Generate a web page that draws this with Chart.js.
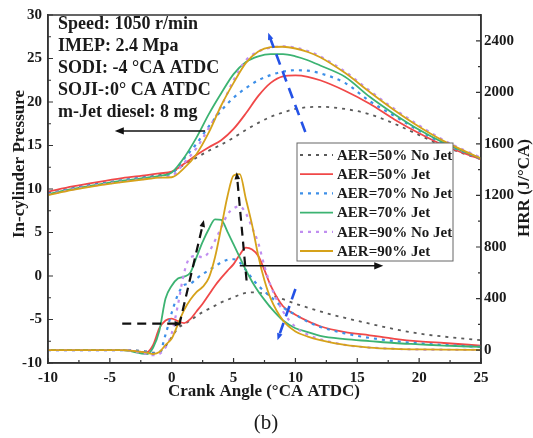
<!DOCTYPE html>
<html lang="en">
<head>
    <meta charset="UTF-8">
    <title>In-cylinder Pressure and HRR</title>
    <style>
        body {
            margin: 0;
            padding: 0;
            background: #fff;
        }
        .chart-box {
            width: 533px;
            height: 438px;
        }
    </style>
</head>
<body>
    <div class="chart-box">
        <canvas id="cylChart" width="533" height="438"></canvas>
    </div>

    <script src="https://cdn.jsdelivr.net/npm/chart.js"></script>
    <script>
        // Series labels (legend order)
        const seriesNames = ['AER=50% No Jet', 'AER=50% Jet', 'AER=70% No Jet', 'AER=70% Jet', 'AER=90% No Jet', 'AER=90% Jet'];

        // In-cylinder pressure, left axis
        const pressureAngles = [-10, -8, -6, -4, -2, -1, 0, 1, 2, 3, 4, 5, 6, 7, 8, 9, 10, 11, 12, 14, 16, 18, 20, 22, 25];
        const p50NoJet = [9.5, 10.1, 10.6, 11.0, 11.4, 11.6, 11.9, 12.8, 13.6, 14.4, 15.1, 15.9, 16.8, 17.6, 18.3, 18.8, 19.2, 19.4, 19.45, 19.2, 18.6, 17.5, 16.2, 14.9, 13.4];
        const p50Jet = [9.7, 10.3, 10.8, 11.25, 11.6, 11.8, 12.0, 12.9, 13.9, 14.8, 15.6, 16.9, 18.7, 20.7, 22.2, 22.95, 23.05, 22.9, 22.5, 21.3, 19.8, 18.0, 16.4, 15.0, 13.4];
        const p70NoJet = [9.45, 10.05, 10.55, 11.0, 11.35, 11.5, 11.8, 13.5, 15.2, 17.2, 19.0, 20.5, 21.6, 22.5, 23.1, 23.5, 23.65, 23.6, 23.3, 22.2, 20.1, 18.4, 16.7, 15.2, 13.5];
        const p70Jet = [9.4, 10.0, 10.5, 10.95, 11.3, 11.5, 11.9, 13.6, 15.9, 18.6, 21.0, 23.2, 24.6, 25.25, 25.5, 25.5, 25.25, 24.8, 24.2, 22.9, 20.6, 18.6, 16.8, 15.3, 13.5];
        const p90NoJet = [9.35, 9.95, 10.45, 10.85, 11.2, 11.35, 11.5, 13.0, 14.7, 17.0, 19.5, 22.5, 24.8, 25.8, 26.25, 26.4, 26.25, 25.85, 25.25, 23.5, 21.3, 19.2, 17.3, 15.6, 13.6];
        const p90Jet = [9.3, 9.9, 10.4, 10.8, 11.15, 11.3, 11.35, 12.4, 14.0, 16.5, 19.6, 22.2, 24.5, 25.8, 26.3, 26.35, 26.15, 25.75, 25.15, 23.35, 21.15, 19.05, 17.15, 15.5, 13.5];

        // Heat release rate, right axis
        const hrrAngles = [-10, -4, -2, -1.5, -1, -0.5, 0, 0.5, 1, 1.5, 2, 2.5, 3, 3.5, 4, 4.5, 5, 5.5, 6, 6.5, 7, 7.5, 8, 9, 10, 11, 12, 14, 16, 18, 20, 22, 25];
        const h50NoJet = [0, 0, -10, -20, -15, 30, 100, 170, 200, 230, 265, 295, 320, 345, 370, 390, 410, 430, 445, 448, 445, 438, 425, 395, 360, 330, 300, 250, 205, 163, 128, 105, 77];
        const h50Jet = [0, 0, -15, 40, 170, 230, 245, 225, 210, 240, 300, 360, 430, 500, 560, 615, 667, 740, 795, 780, 730, 620, 500, 340, 275, 225, 185, 140, 115, 88, 68, 55, 35];
        const h70NoJet = [0, 0, -15, -25, -20, 120, 290, 430, 505, 515, 555, 590, 620, 650, 680, 700, 705, 680, 620, 555, 500, 455, 415, 330, 275, 220, 180, 130, 95, 70, 52, 40, 25];
        const h70Jet = [0, 0, -30, 20, 150, 400, 500, 555, 570, 600, 720, 840, 940, 1015, 1010, 920, 820, 720, 620, 530, 455, 390, 330, 230, 170, 140, 110, 85, 70, 55, 45, 35, 25];
        const h90NoJet = [0, 0, -30, -40, -30, 20, 130, 350, 600, 720, 730, 720, 760, 850, 950, 1050, 1100, 1115, 1060, 950, 830, 650, 500, 300, 180, 120, 85, 40, 20, 10, 5, 3, 2];
        const h90Jet = [0, 0, -20, -30, -15, 40, 90, 200, 310, 390, 450, 490, 560, 720, 950, 1190, 1355, 1365, 1170, 970, 730, 540, 400, 230, 145, 105, 78, 40, 20, 10, 5, 3, 2];

        // Tick values
        const angleTicks = [-10, -5, 0, 5, 10, 15, 20, 25];
        const pressureTicks = [-10, -5, 0, 5, 10, 15, 20, 25, 30];
        const hrrTicks = [0, 400, 800, 1200, 1600, 2000, 2400];

        const infoLines = ['Speed: 1050 r/min', 'IMEP: 2.4 Mpa', 'SODI: -4 °CA ATDC', 'SOJI-:0° CA ATDC', 'm-Jet diesel: 8 mg'];

        const styles = [
            { color: '#5a5a5a', dash: [3, 5], width: 1.8 },
            { color: '#f04848', dash: [], width: 1.8 },
            { color: '#3d8fe8', dash: [3, 5], width: 2.2 },
            { color: '#3cb372', dash: [], width: 1.8 },
            { color: '#c08ef0', dash: [3, 5], width: 2.2 },
            { color: '#d6a21a', dash: [], width: 1.8 }
        ];

        const pressureSets = [p50NoJet, p50Jet, p70NoJet, p70Jet, p90NoJet, p90Jet];
        const hrrSets = [h50NoJet, h50Jet, h70NoJet, h70Jet, h90NoJet, h90Jet];

        function makeSet(label, angles, values, axis, i) {
            return {
                label: label,
                data: angles.map((a, k) => ({ x: a, y: values[k] })),
                yAxisID: axis,
                borderColor: styles[i].color,
                borderDash: styles[i].dash,
                borderWidth: styles[i].width,
                pointRadius: 0,
                fill: false,
                cubicInterpolationMode: 'monotone',
                order: 5 - i
            };
        }

        const datasets = [];
        seriesNames.forEach((name, i) => {
            datasets.push(makeSet(name, pressureAngles, pressureSets[i], 'y', i));
            datasets.push(makeSet(name, hrrAngles, hrrSets[i], 'y1', i));
        });

        function tickObjs(list) {
            return list.map(v => ({ value: v }));
        }

        const tickFont = { family: 'Liberation Serif', size: 15, weight: 'bold' };

        function drawArrow(ctx, x1, y1, x2, y2, color, width, dash, head) {
            ctx.save();
            ctx.strokeStyle = color;
            ctx.fillStyle = color;
            ctx.lineWidth = width;
            ctx.setLineDash(dash);
            const ang = Math.atan2(y2 - y1, x2 - x1);
            ctx.beginPath();
            ctx.moveTo(x1, y1);
            ctx.lineTo(x2 - Math.cos(ang) * head * 0.6, y2 - Math.sin(ang) * head * 0.6);
            ctx.stroke();
            ctx.setLineDash([]);
            ctx.beginPath();
            ctx.moveTo(x2, y2);
            ctx.lineTo(x2 - head * Math.cos(ang) + head * 0.4 * Math.sin(ang), y2 - head * Math.sin(ang) - head * 0.4 * Math.cos(ang));
            ctx.lineTo(x2 - head * Math.cos(ang) - head * 0.4 * Math.sin(ang), y2 - head * Math.sin(ang) + head * 0.4 * Math.cos(ang));
            ctx.closePath();
            ctx.fill();
            ctx.restore();
        }

        const decorPlugin = {
            id: 'decor',
            afterDraw(chart) {
                const ctx = chart.ctx;
                const a = chart.chartArea;
                const sx = chart.scales.x, sy = chart.scales.y, sy1 = chart.scales.y1;

                ctx.save();
                // frame
                ctx.strokeStyle = '#333';
                ctx.lineWidth = 1.5;
                ctx.strokeRect(a.left, a.top, a.right - a.left, a.bottom - a.top);

                // inward ticks
                ctx.lineWidth = 1.2;
                ctx.beginPath();
                for (let v = -10; v <= 25; v += 2.5) {
                    const px = sx.getPixelForValue(v);
                    const len = angleTicks.includes(v) ? 5 : 3;
                    ctx.moveTo(px, a.bottom);
                    ctx.lineTo(px, a.bottom - len);
                }
                for (let v = -10; v <= 30; v += 2.5) {
                    const py = sy.getPixelForValue(v);
                    const len = pressureTicks.includes(v) ? 5 : 3;
                    ctx.moveTo(a.left, py);
                    ctx.lineTo(a.left + len, py);
                }
                for (let v = 0; v <= 2600; v += 200) {
                    const py = sy1.getPixelForValue(v);
                    const len = hrrTicks.includes(v) ? 5 : 3;
                    ctx.moveTo(a.right, py);
                    ctx.lineTo(a.right - len, py);
                }
                ctx.stroke();

                // info text
                ctx.fillStyle = '#1a1a1a';
                ctx.font = 'bold 18px "Liberation Serif"';
                ctx.textBaseline = 'middle';
                ctx.textAlign = 'left';
                infoLines.forEach((t, i) => ctx.fillText(t, 58, 24 + i * 22));

                // arrows
                drawArrow(ctx, sx.getPixelForValue(2.7), sy.getPixelForValue(16.67), sx.getPixelForValue(-4.6), sy.getPixelForValue(16.67), '#111', 1.6, [], 9);
                drawArrow(ctx, sx.getPixelForValue(5.5), sy1.getPixelForValue(654), sx.getPixelForValue(17.1), sy1.getPixelForValue(654), '#111', 1.6, [], 9);
                drawArrow(ctx, sx.getPixelForValue(-4), sy1.getPixelForValue(205), sx.getPixelForValue(0.8), sy1.getPixelForValue(205), '#111', 2.2, [9, 6], 7);
                drawArrow(ctx, sx.getPixelForValue(0.6), sy1.getPixelForValue(190), sx.getPixelForValue(2.6), sy1.getPixelForValue(1010), '#111', 2.2, [9, 6], 7);
                drawArrow(ctx, sx.getPixelForValue(6.05), sy1.getPixelForValue(540), sx.getPixelForValue(5.25), sy1.getPixelForValue(1380), '#111', 2.2, [9, 6], 7);
                drawArrow(ctx, sx.getPixelForValue(10.8), sy.getPixelForValue(16.55), sx.getPixelForValue(7.8), sy.getPixelForValue(27.95), '#2452e6', 2.6, [11, 7], 7);
                drawArrow(ctx, sx.getPixelForValue(10.0), sy1.getPixelForValue(474), sx.getPixelForValue(8.55), sy1.getPixelForValue(77), '#2452e6', 2.6, [11, 7], 7);

                // legend
                const lx = 297, ly = 143, lw = 156, lh = 118;
                ctx.fillStyle = '#fff';
                ctx.fillRect(lx, ly, lw, lh);
                ctx.strokeStyle = '#666';
                ctx.lineWidth = 1;
                ctx.strokeRect(lx, ly, lw, lh);
                ctx.font = 'bold 15px "Liberation Serif"';
                seriesNames.forEach((name, i) => {
                    const y = ly + 12 + i * 19.2;
                    ctx.strokeStyle = styles[i].color;
                    ctx.lineWidth = styles[i].width;
                    ctx.setLineDash(styles[i].dash);
                    ctx.beginPath();
                    ctx.moveTo(lx + 3, y);
                    ctx.lineTo(lx + 36, y);
                    ctx.stroke();
                    ctx.setLineDash([]);
                    ctx.fillStyle = '#1a1a1a';
                    ctx.fillText(name, lx + 40, y + 1);
                });

                // axis titles
                ctx.fillStyle = '#1a1a1a';
                ctx.font = 'bold 17px "Liberation Serif"';
                ctx.textAlign = 'center';
                ctx.fillText('Crank Angle (°CA ATDC)', 264, 392);
                ctx.save();
                ctx.translate(20, 164);
                ctx.rotate(-Math.PI / 2);
                ctx.fillText('In-cylinder Pressure', 0, 0);
                ctx.restore();
                ctx.save();
                ctx.translate(525, 188);
                ctx.rotate(-Math.PI / 2);
                ctx.fillText('HRR (J/°CA)', 0, 0);
                ctx.restore();

                ctx.font = '21px "Liberation Serif"';
                ctx.fillText('(b)', 266, 423);
                ctx.restore();
            }
        };

        new Chart(document.getElementById('cylChart'), {
            type: 'line',
            data: { datasets: datasets },
            options: {
                responsive: false,
                animation: false,
                layout: { padding: { top: 12 } },
                plugins: {
                    legend: { display: false },
                    tooltip: { enabled: false }
                },
                scales: {
                    x: {
                        type: 'linear',
                        min: -10,
                        max: 25,
                        grid: { display: false, drawTicks: false },
                        border: { display: true, color: '#333', width: 1.5 },
                        afterBuildTicks: s => { s.ticks = tickObjs(angleTicks); },
                        afterFit: s => { s.height = 75; },
                        ticks: { font: tickFont, color: '#1a1a1a', padding: 6, autoSkip: false, maxRotation: 0, callback: v => String(v) }
                    },
                    y: {
                        position: 'left',
                        min: -10,
                        max: 30,
                        grid: { display: false, drawTicks: false },
                        border: { display: true, color: '#333', width: 1.5 },
                        afterBuildTicks: s => { s.ticks = tickObjs(pressureTicks); },
                        afterFit: s => { s.width = 48; },
                        ticks: { font: tickFont, color: '#1a1a1a', padding: 6, autoSkip: false, callback: v => String(v) }
                    },
                    y1: {
                        position: 'right',
                        min: -100,
                        max: 2600,
                        grid: { display: false, drawTicks: false },
                        border: { display: true, color: '#333', width: 1.5 },
                        afterBuildTicks: s => { s.ticks = tickObjs(hrrTicks); },
                        afterFit: s => { s.width = 52; },
                        ticks: { font: tickFont, color: '#1a1a1a', padding: 3, autoSkip: false, callback: v => String(v) }
                    }
                }
            },
            plugins: [decorPlugin]
        });
    </script>
</body>
</html>
